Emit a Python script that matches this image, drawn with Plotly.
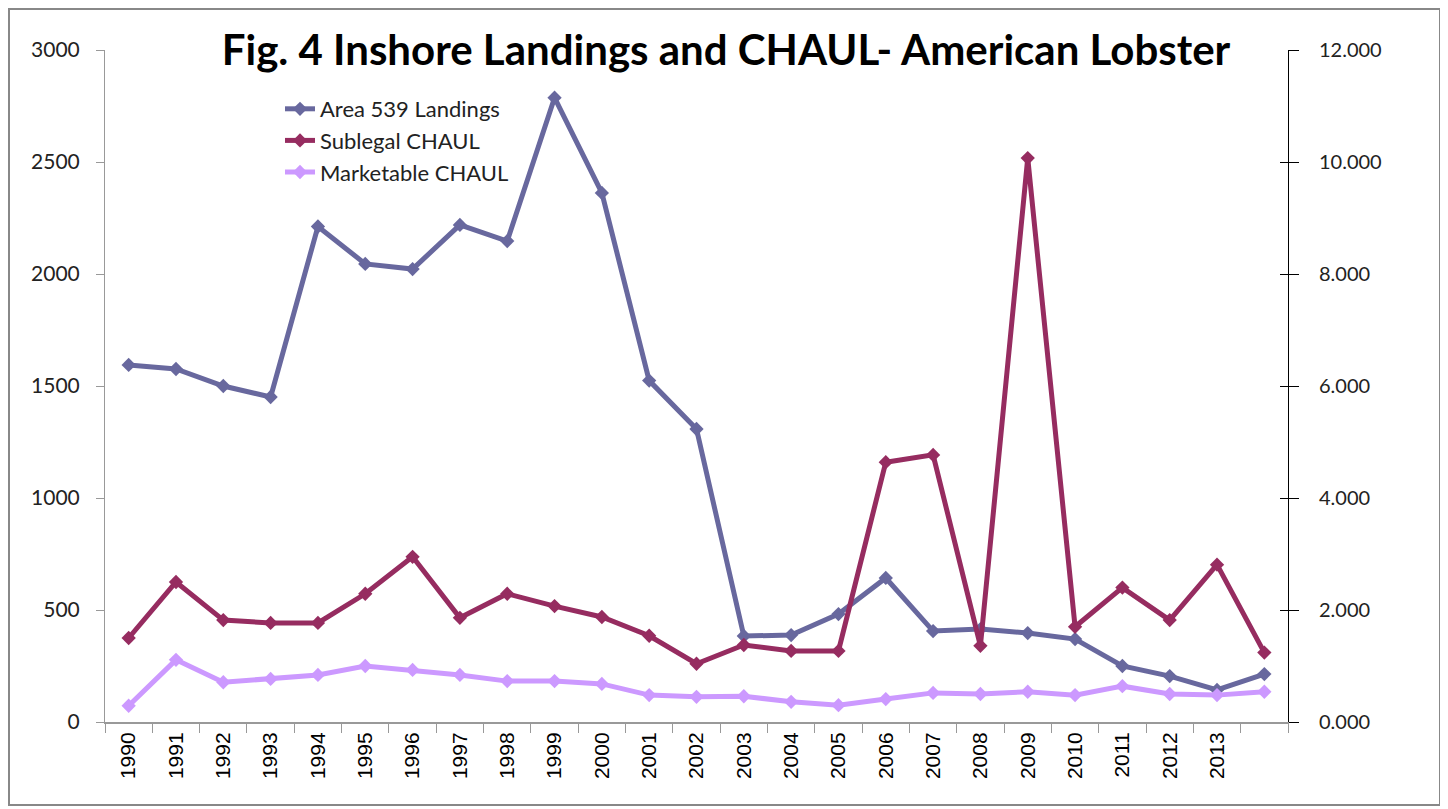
import plotly.graph_objs as go

years = [str(y) for y in range(1990, 2015)]
year_labels = years[:-1] + ['']  # last category has no label in the original

landings = [1594, 1576, 1500, 1451, 2212, 2045, 2022, 2219, 2147, 2787, 2362, 1524,
            1308, 384, 388, 482, 643, 406, 415, 397, 370, 250, 205, 143, 214]
sublegal = [1.50, 2.50, 1.82, 1.77, 1.77, 2.29, 2.95, 1.86, 2.29, 2.07, 1.875, 1.54,
            1.04, 1.375, 1.27, 1.27, 4.64, 4.77, 1.36, 10.07, 1.70, 2.40, 1.82, 2.81, 1.24]
marketable = [0.29, 1.11, 0.71, 0.77, 0.84, 1.00, 0.93, 0.84, 0.73, 0.73, 0.68, 0.48,
              0.45, 0.46, 0.36, 0.30, 0.41, 0.52, 0.50, 0.54, 0.48, 0.64, 0.50, 0.48, 0.54]

c_land = 'rgb(104,104,158)'
c_sub = 'rgb(150,44,96)'
c_mkt = 'rgb(204,153,255)'

data = [
    go.Scatter(x=years, y=landings, name='Area 539 Landings', mode='lines+markers',
               line={'color': c_land, 'width': 5},
               marker={'symbol': 'diamond', 'size': 11, 'color': c_land}),
    go.Scatter(x=years, y=sublegal, name='Sublegal CHAUL', mode='lines+markers', yaxis='y2',
               line={'color': c_sub, 'width': 5},
               marker={'symbol': 'diamond', 'size': 11, 'color': c_sub}),
    go.Scatter(x=years, y=marketable, name='Marketable CHAUL', mode='lines+markers', yaxis='y2',
               line={'color': c_mkt, 'width': 5},
               marker={'symbol': 'diamond', 'size': 11, 'color': c_mkt}),
]

# page has an 8px body margin, so the figure is drawn a bit smaller and shifted
off = 8
W, H = 1448 - off, 809 - off
ml, mr, mt, mb = 105 - off, 1448 - 1288, 50 - off, 809 - 722
pw, ph = W - ml - mr, H - mt - mb

layout = {
    'width': W, 'height': H,
    'margin': {'l': ml, 'r': mr, 't': mt, 'b': mb},
    'paper_bgcolor': 'white',
    'plot_bgcolor': 'white',
    'font': {'family': 'Lato, Arial', 'color': '#222'},
    'title': {'text': '<b>Fig. 4 Inshore Landings and CHAUL- American Lobster</b>',
              'x': (726 - off) / W, 'xanchor': 'center', 'y': 1 - (50 - off) / H, 'yanchor': 'middle',
              'font': {'family': 'Lato, Arial', 'size': 42, 'color': 'black'}},
    'showlegend': True,
    'legend': {'x': (280 - off - ml) / pw, 'y': 1 - (88 - off - mt) / ph,
               'xanchor': 'left', 'yanchor': 'top',
               'bgcolor': 'rgba(0,0,0,0)', 'font': {'family': 'Lato, Arial', 'size': 22},
               'tracegroupgap': 0},
    'xaxis': {
        'type': 'category',
        'range': [-0.5, len(years) - 0.5],
        'tickmode': 'array', 'tickvals': years, 'ticktext': year_labels,
        'tickangle': -90,
        'tickson': 'boundaries',
        'ticks': 'outside', 'ticklen': 9, 'tickcolor': '#999',
        'showline': True, 'linecolor': '#999', 'linewidth': 2,
        'showgrid': False, 'zeroline': False,
        'tickfont': {'family': 'Liberation Sans, Arial', 'size': 21, 'color': 'black'},
    },
    'yaxis': {
        'range': [0, 3000], 'dtick': 500,
        'ticks': 'outside', 'ticklen': 8, 'tickcolor': '#999',
        'ticklabelstandoff': 12,
        'showline': True, 'linecolor': '#999', 'linewidth': 1,
        'showgrid': False, 'zeroline': False,
        'tickfont': {'family': 'Lato, Arial', 'size': 21, 'color': '#222'},
    },
    'yaxis2': {
        'overlaying': 'y', 'side': 'right',
        'range': [0, 12], 'dtick': 2, 'tickformat': '.3f',
        'ticks': 'outside', 'ticklen': 10, 'tickcolor': 'black',
        'ticklabelstandoff': 16,
        'showline': True, 'linecolor': 'black', 'linewidth': 1,
        'showgrid': False, 'zeroline': False,
        'tickfont': {'family': 'Lato, Arial', 'size': 20, 'color': '#222'},
    },
    # inner half of the crossing ticks on the right axis
    'yaxis3': {
        'overlaying': 'y', 'side': 'right', 'matches': 'y2',
        'dtick': 2, 'ticks': 'inside', 'ticklen': 8, 'tickcolor': 'black',
        'showticklabels': False, 'showline': False,
        'showgrid': False, 'zeroline': False,
    },
    'shapes': [{
        'type': 'rect', 'xref': 'paper', 'yref': 'paper',
        'x0': (1 - ml) / pw, 'x1': (W - 8 - ml) / pw,
        'y0': -(805 - 722) / ph, 'y1': 1 + (mt - 1) / ph,
        'line': {'color': '#888', 'width': 2},
    }],
}

fig = go.Figure(data=data, layout=layout)
# empty trace so the third axis is drawn
fig.add_trace(go.Scatter(x=[], y=[], yaxis='y3', showlegend=False, hoverinfo='skip'))
fig.write_html('out.html')
